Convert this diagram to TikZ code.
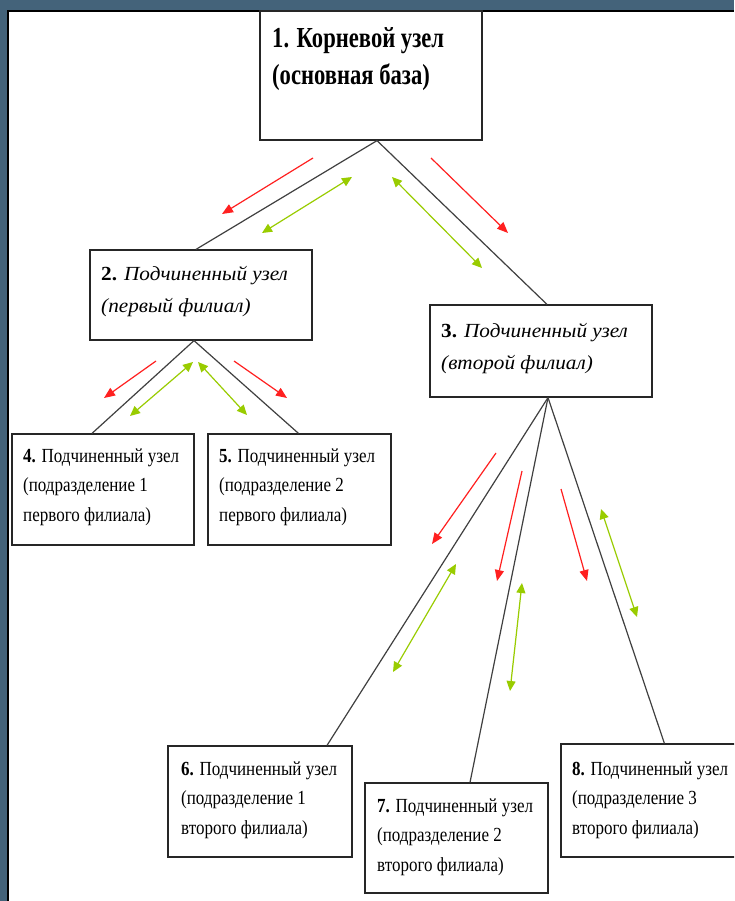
\documentclass[tikz,border=0pt]{standalone}
\usepackage{fontspec}
\setmainfont{Liberation Serif}
\newfontfamily\nf{Liberation Serif}[FakeStretch=0.85]
\newfontfamily\itf{Liberation Serif}[FakeStretch=1.06]
\newfontfamily\rf{Liberation Serif}[FakeStretch=0.78]
\usetikzlibrary{arrows.meta}
\definecolor{framecol}{HTML}{44637A}
\definecolor{redar}{HTML}{FF2020}
\definecolor{greenar}{HTML}{99CC00}
\begin{document}
\begin{tikzpicture}[x=1pt,y=-1pt,
  box/.style={draw=black!85, line width=1.2pt, fill=white, inner sep=0pt},
  conn/.style={draw=black!75, line width=1.2pt},
  redarrow/.style={draw=redar, line width=1.2pt, -{Triangle[length=11pt,width=9pt]}},
  greenarrow/.style={draw=greenar, line width=1.2pt, {Triangle[length=10pt,width=9pt]}-{Triangle[length=10pt,width=9pt]}},
  rootlabel/.style={anchor=base west, inner sep=0pt, align=left, font=\rf\bfseries\fontsize{29}{37}\selectfont},
  itlabel/.style={anchor=base west, inner sep=0pt, align=left, font=\itf\itshape\fontsize{20}{32}\selectfont},
  sublabel/.style={anchor=base west, inner sep=0pt, align=left, font=\nf\fontsize{20}{29.5}\selectfont}]
\useasboundingbox (0,0) rectangle (734,901);
\clip (0,0) rectangle (734,901);
\fill[framecol] (0,0) rectangle (734,901);
\fill[white] (8,11) rectangle (734,901);
\draw[black, line width=1.5pt] (8,901) -- (8,11) -- (734,11);

% boxes
\node[box, minimum width=222pt, minimum height=129pt] (b1) at (371,75.5) {};
\node[box, minimum width=222pt, minimum height=90pt] (b2) at (201,295) {};
\node[box, minimum width=222pt, minimum height=92pt] (b3) at (541,351) {};
\node[box, minimum width=182pt, minimum height=111pt] (b4) at (103,489.5) {};
\node[box, minimum width=183pt, minimum height=111pt] (b5) at (299.5,489.5) {};
\node[box, minimum width=184pt, minimum height=111pt] (b6) at (260,801.5) {};
\node[box, minimum width=183pt, minimum height=110pt] (b7) at (456.5,838) {};
\node[box, minimum width=199pt, minimum height=113pt] (b8) at (660.5,800.5) {};

% texts (anchored at the baseline of their last line)
\node[rootlabel] (t1) at (272,85) {1. Корневой узел\\(основная база)};
\node[itlabel] (t2) at (101,312) {\textbf{\textup{2.}} Подчиненный узел\\(первый филиал)};
\node[itlabel] (t3) at (441,369) {\textbf{\textup{3.}} Подчиненный узел\\(второй филиал)};
\node[sublabel] (t4) at (23,521) {\textbf{4.} Подчиненный узел\\(подразделение 1\\первого филиала)};
\node[sublabel] (t5) at (219,521) {\textbf{5.} Подчиненный узел\\(подразделение 2\\первого филиала)};
\node[sublabel] (t6) at (181,834) {\textbf{6.} Подчиненный узел\\(подразделение 1\\второго филиала)};
\node[sublabel] (t7) at (377,871) {\textbf{7.} Подчиненный узел\\(подразделение 2\\второго филиала)};
\node[sublabel] (t8) at (572,834) {\textbf{8.} Подчиненный узел\\(подразделение 3\\второго филиала)};

% tree connectors
\draw[conn] ([xshift=6pt]b1.south) -- ([xshift=-5pt]b2.north);
\draw[conn] ([xshift=6pt]b1.south) -- ([xshift=6pt]b3.north);
\draw[conn] ([xshift=-7pt]b2.south) -- ([xshift=-11pt]b4.north);
\draw[conn] ([xshift=-7pt]b2.south) -- ([xshift=-1pt]b5.north);
\draw[conn] ([xshift=7pt]b3.south) -- ([xshift=67pt]b6.north);
\draw[conn] ([xshift=7pt]b3.south) -- ([xshift=13.5pt]b7.north);
\draw[conn] ([xshift=7pt]b3.south) -- ([xshift=104pt]b8.north west);

% flow arrows
\coordinate (r1s) at (313,158); \coordinate (r1e) at (222,214);
\coordinate (g1s) at (352,177); \coordinate (g1e) at (262,233);
\coordinate (g2s) at (392,177); \coordinate (g2e) at (482,268);
\coordinate (r2s) at (431,158); \coordinate (r2e) at (508,233);
\coordinate (r3s) at (156,361); \coordinate (r3e) at (104,398);
\coordinate (g3s) at (193,362); \coordinate (g3e) at (130,416);
\coordinate (g4s) at (198,362); \coordinate (g4e) at (247,415);
\coordinate (r4s) at (234,361); \coordinate (r4e) at (287,398);
\coordinate (r5s) at (496,453); \coordinate (r5e) at (432,544);
\coordinate (r6s) at (522,471); \coordinate (r6e) at (497,581);
\coordinate (r7s) at (561,489); \coordinate (r7e) at (587,581);
\coordinate (g5s) at (456,564); \coordinate (g5e) at (393,672);
\coordinate (g6s) at (522,583); \coordinate (g6e) at (510,691);
\coordinate (g7s) at (601,509); \coordinate (g7e) at (637,617);

\foreach \a in {r1,r2,r3,r4,r5,r6,r7} \draw[redarrow] (\a s) -- (\a e);
\foreach \a in {g1,g2,g3,g4,g5,g6,g7} \draw[greenarrow] (\a s) -- (\a e);
\end{tikzpicture}
\end{document}
